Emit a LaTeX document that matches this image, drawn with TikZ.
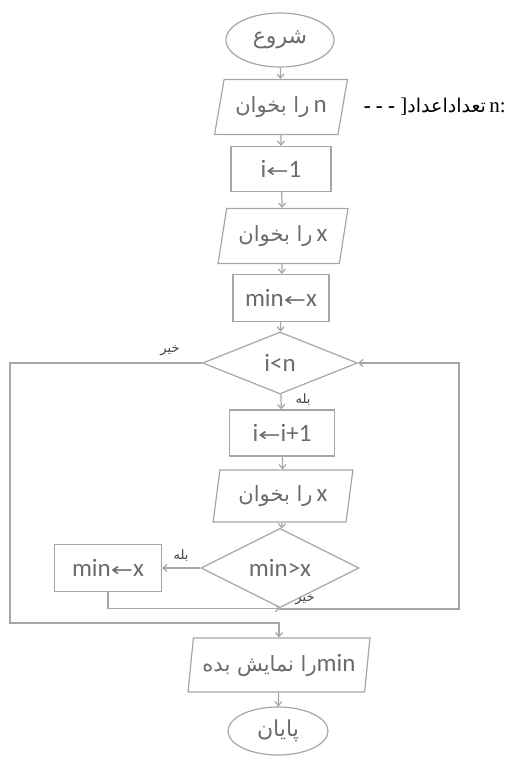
\documentclass[tikz,border=0pt]{standalone}
\usepackage{fontspec}
\usepackage{graphicx}
\setmainfont{Carlito}
\newfontfamily\farsi[Script=Arabic]{DejaVu Sans}
\newfontfamily\symfont{DejaVu Sans}
\newfontfamily\notefont{Liberation Serif}
\TeXXeTstate=1
\usetikzlibrary{shapes.geometric}
\usetikzlibrary{arrows.meta}

\newcommand{\fa}[1]{{\farsi\beginR #1\endR}}
\newcommand{\assign}{\scalebox{1.4}[1]{\symfont\fontsize{19}{21}\selectfont ←}}

\begin{document}
\begin{tikzpicture}[x=1pt,y=-1pt,
  line/.style={draw=black!35, line width=1.2pt},
  flow/.style={line, -{Straight Barb[length=4pt,width=7pt]}},
  box/.style={line, inner sep=0pt, text=black!58, font=\fontsize{25}{27}\selectfont},
  term/.style={box, ellipse, font=\farsi\fontsize{22}{24}\selectfont},
  proc/.style={box, rectangle},
  io/.style={box, trapezium, trapezium stretches=true, trapezium left angle=#1, trapezium right angle=180-#1},
  cond/.style={box, diamond},
  tag/.style={text=black!75, font=\farsi\fontsize{13}{14}\selectfont, inner sep=0pt}]

\useasboundingbox (0,0) rectangle (506,758);

% main column
\node[term, minimum width=108, minimum height=54] (start) at (280,40) {\fa{شروع}};
\node[io=70, minimum width=133, minimum height=55] (readn) at (281,107)
  {\fa{\fontsize{21}{23}\selectfont را بخوان}\,n};
\node[proc, minimum width=100, minimum height=45] (init) at (281,169) {i\assign1};
\node[io=72, minimum width=130, minimum height=55] (readx) at (283,236)
  {\fa{\fontsize{21}{23}\selectfont را بخوان}\,x};
\node[proc, minimum width=96, minimum height=47] (setmin) at (281,298) {min\assign x};
\node[cond, minimum width=155, minimum height=62] (test) at (280,363) {i<n};
\node[proc, minimum width=105, minimum height=46] (inc) at (282,433) {i\assign i+1};
\node[io=77, minimum width=140, minimum height=52] (readx2) at (283,496)
  {\fa{\fontsize{21}{23}\selectfont را بخوان}\,x};
\node[cond, minimum width=158, minimum height=60] (cmp) at (280,568) {min>x};
\node[proc, minimum width=107, minimum height=47] (upd) at (108,568) {min\assign x};
\node[io=78, minimum width=182, minimum height=54] (show) at (279,665)
  {\fa{\fontsize{21}{23}\selectfont را نمایش بده}min};
\node[term, minimum width=100, minimum height=48] (stop) at (278,731) {\fa{پایان}};

% note
\node[anchor=east, inner sep=0pt, font=\notefont\fontsize{21}{23}\selectfont] (note) at (506,107)
  {\textbf{- - -} ]\fa{\fontsize{19}{21}\selectfont تعداداعداد}\,n:};

% loop corners
\coordinate (loopL) at (10,623);
\coordinate (loopR) at (459,609);

% arrows
\draw[flow] (start) -- (readn);
\draw[flow] (readn) -- (init);
\draw[flow] (init) -- (readx);
\draw[flow] (readx) -- (setmin);
\draw[flow] (setmin) -- (test);
\draw[flow] (test) -- (inc);
\draw[flow] (inc) -- (readx2);
\draw[flow] (readx2) -- (cmp);
\draw[flow] (cmp) -- (upd);
\draw[flow] (upd.south) |- (cmp.south);
\draw[flow] (cmp.south) |- (loopR) |- (test.east);
\draw[flow] (test.west) -| (loopL) -| (show.north);
\draw[flow] (show) -- (stop);

% labels
\node[tag] (no1) at (170,351) {\fa{خیر}};
\node[tag] (yes1) at (303,400) {\fa{بله}};
\node[tag] (yes2) at (181,556) {\fa{بله}};
\node[tag] (no2) at (305,600) {\fa{خیر}};

\end{tikzpicture}
\end{document}
